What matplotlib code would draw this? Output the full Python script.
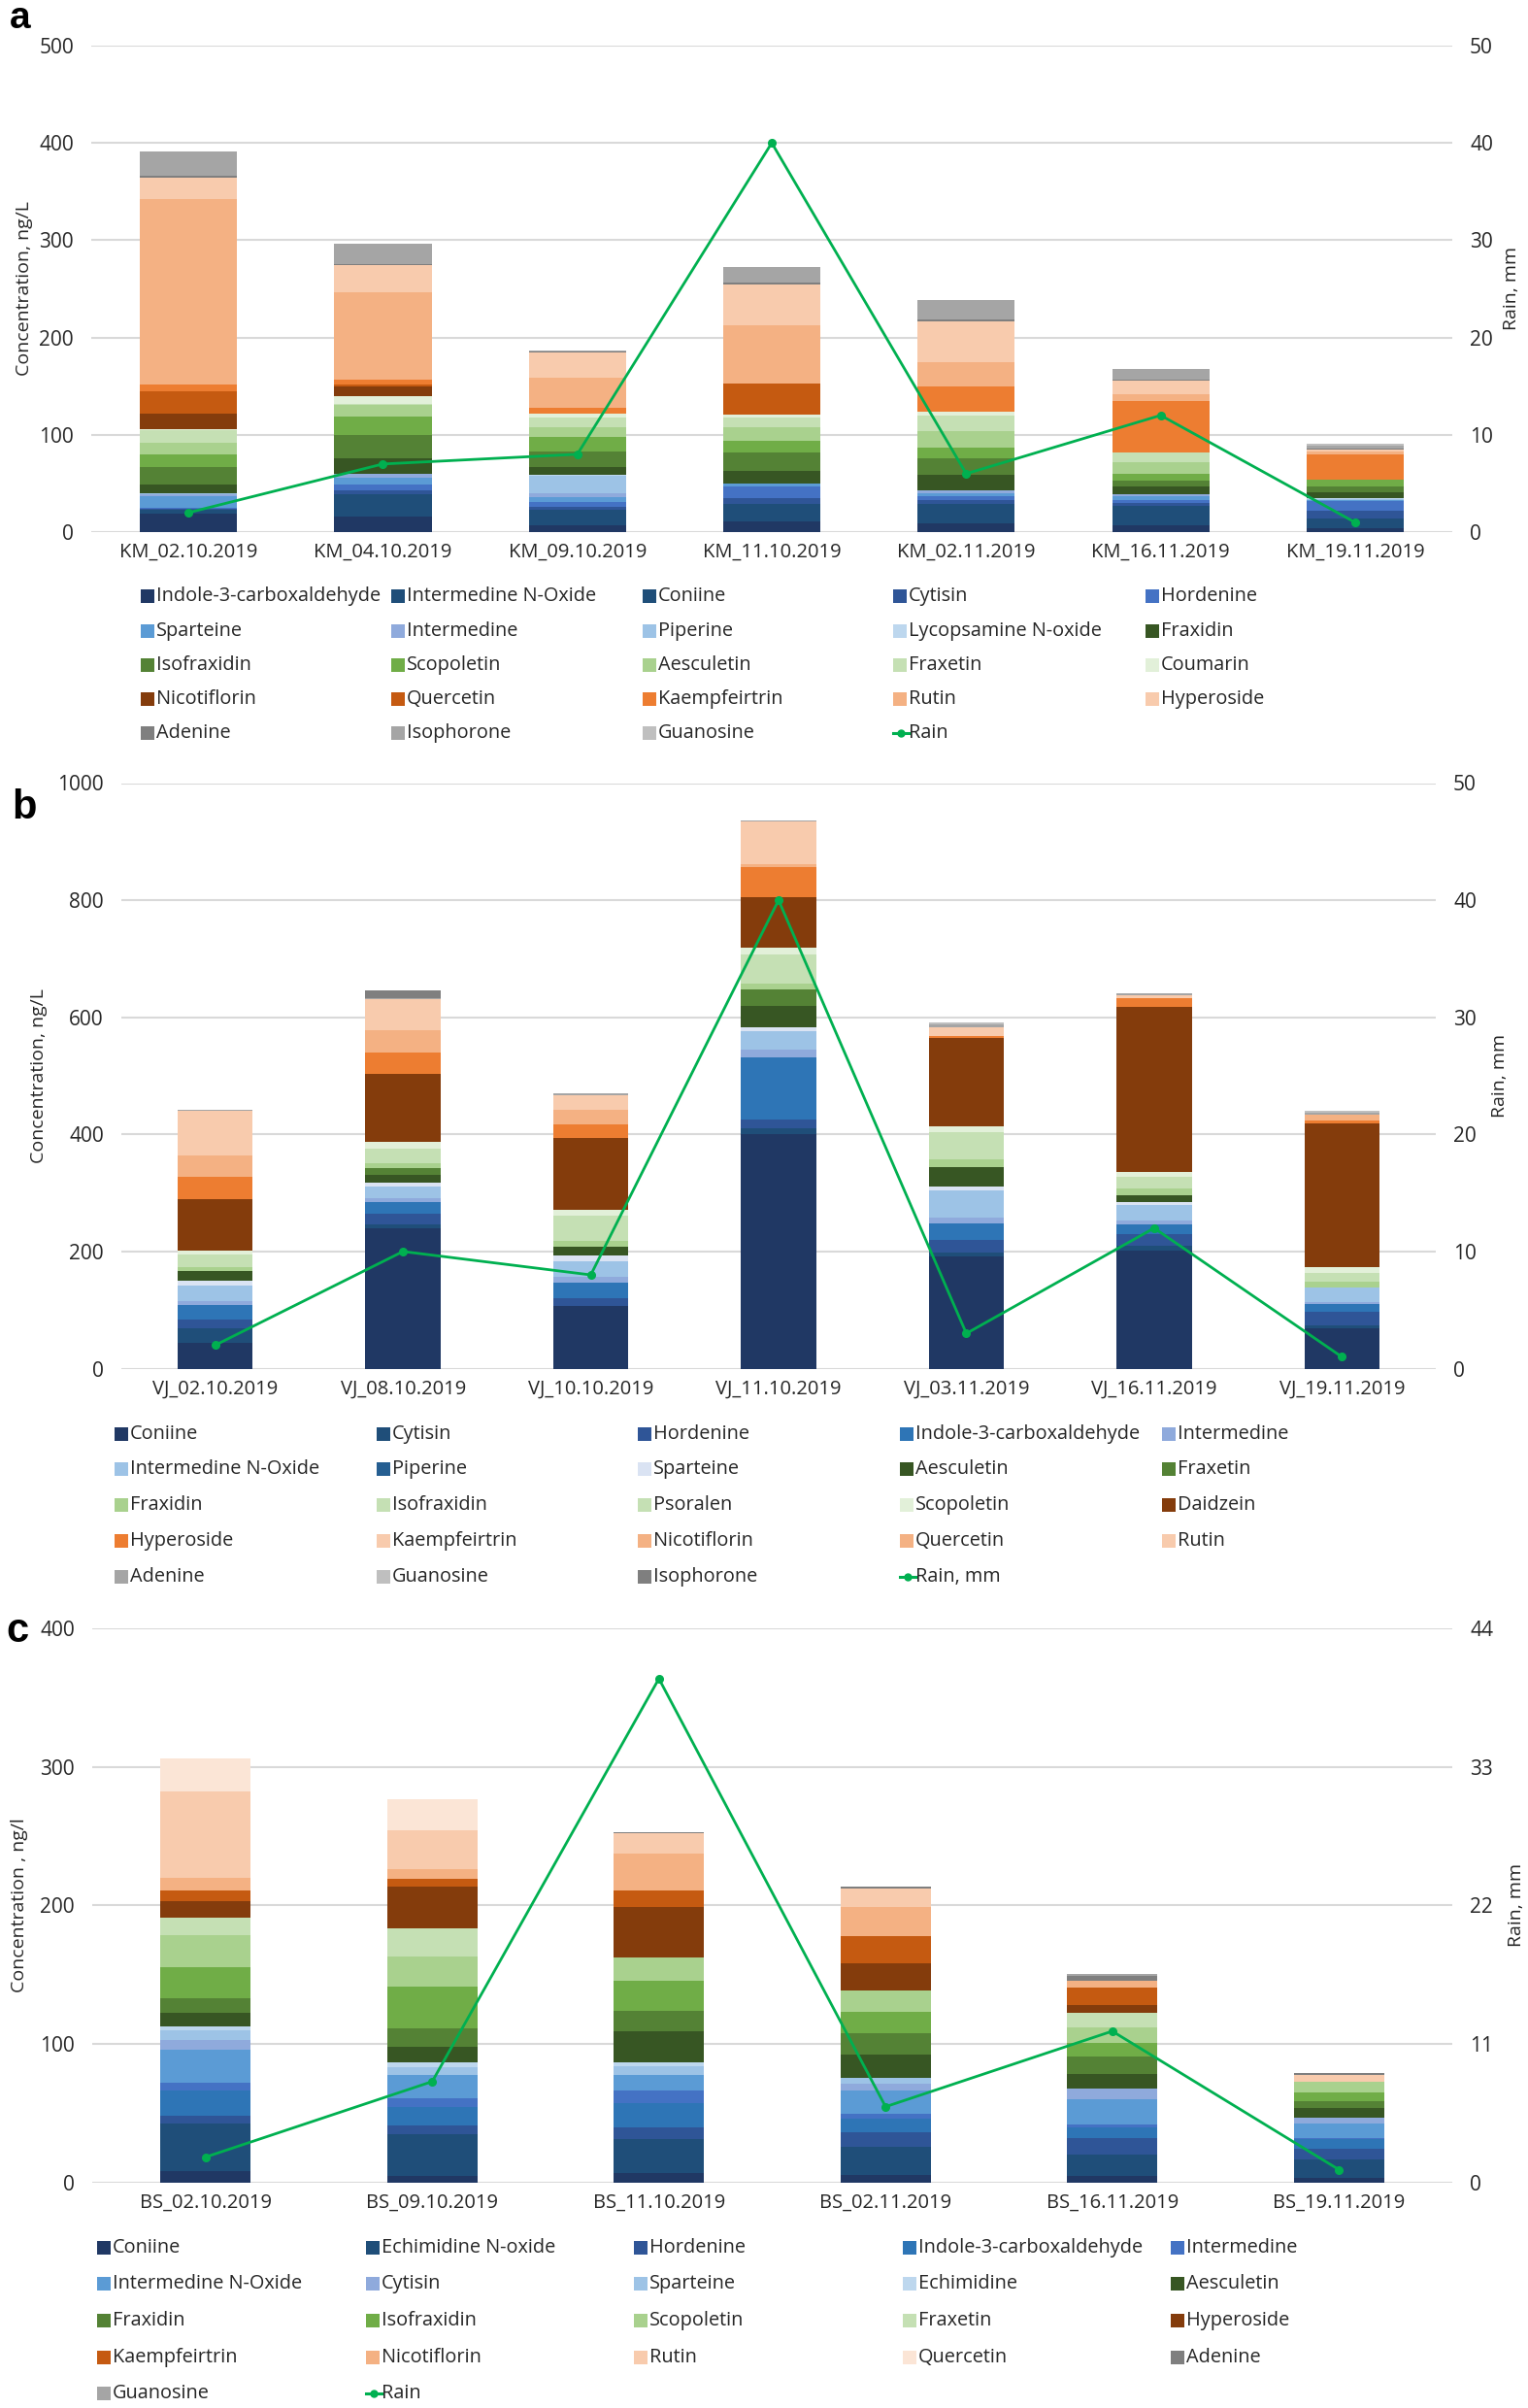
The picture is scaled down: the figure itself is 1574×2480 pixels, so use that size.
import numpy as np
import matplotlib
matplotlib.use("Agg")
import matplotlib.pyplot as plt
from matplotlib.patches import Rectangle
from matplotlib.lines import Line2D

plt.rcParams['font.family'] = ['Open Sans', 'DejaVu Sans']
TXT = '#262626'
GRID = '#D9D9D9'
RAIN_C = '#00B050'

# ---------------- panel a data ----------------
a_samples = ["KM_02.10.2019", "KM_04.10.2019", "KM_09.10.2019", "KM_11.10.2019",
             "KM_02.11.2019", "KM_16.11.2019", "KM_19.11.2019"]
a_conc = {
    "Indole-3-carboxaldehyde": [19, 16, 7, 11, 9.4, 6.7, 4.4],
    "Intermedine N-Oxide": [4, 22.5, 16.4, 17.8, 15, 16.8, 8.4],
    "Coniine": [0, 0, 0, 0, 5, 3.4, 0.7],
    "Cytisin": [1, 4.3, 2.7, 5.7, 4, 2.7, 8.4],
    "Hordenine": [0.5, 6, 5, 12.4, 3.4, 3.4, 10],
    "Sparteine": [12, 7.4, 5, 3.4, 3.4, 4.4, 1],
    "Intermedine": [2.3, 4, 4, 0, 2.7, 1.7, 0],
    "Piperine": [1, 0, 18, 0, 0, 0, 1.2],
    "Lycopsamine N-oxide": [0, 0, 0.5, 0, 0, 0, 1.2],
    "Fraxidin": [9, 16, 8, 12.8, 16, 7.4, 6],
    "Isofraxidin": [17.8, 23.5, 16, 18.5, 17.4, 6, 5.7],
    "Scopoletin": [13.4, 19.5, 15, 12.4, 10.7, 7.4, 6.7],
    "Aesculetin": [11.7, 11.4, 9.7, 13.4, 16.8, 11.7, 0],
    "Fraxetin": [13.4, 1, 10, 10, 16, 10, 0],
    "Coumarin": [0.6, 7.7, 4.4, 3.4, 4.4, 0.7, 0],
    "Nicotiflorin": [16, 10.7, 0, 0, 0, 0, 0],
    "Quercetin": [23.5, 1.3, 0, 31.9, 0, 0, 0],
    "Kaempfeirtrin": [6, 5.4, 5.7, 0, 25.8, 52, 26],
    "Rutin": [191, 89.5, 31.2, 60, 24.8, 7.7, 2.7],
    "Hyperoside": [22, 28.4, 26.3, 41.6, 41.8, 13.4, 2],
    "Adenine": [1.8, 1, 1, 1.8, 1.8, 1, 1.3],
    "Isophorone": [25.5, 21, 1, 16.6, 20.3, 11.4, 3],
    "Guanosine": [0, 0, 0, 0, 0, 0, 2.4],
}
a_rain = [2, 7, 8, 40, 6, 12, 1]
a_colors = ['#203864', '#1F4E79', '#1F4E79', '#2F5597', '#4472C4', '#5B9BD5', '#8FAADC',
            '#9DC3E6', '#BDD7EE', '#375623', '#548235', '#70AD47', '#A9D18E', '#C5E0B4',
            '#E2F0D9', '#843C0C', '#C55A11', '#ED7D31', '#F4B183', '#F8CBAD', '#7F7F7F',
            '#A5A5A5', '#BFBFBF']

# ---------------- panel b data ----------------
b_samples = ["VJ_02.10.2019", "VJ_08.10.2019", "VJ_10.10.2019", "VJ_11.10.2019",
             "VJ_03.11.2019", "VJ_16.11.2019", "VJ_19.11.2019"]
b_conc = {
    "Coniine": [44, 239, 107.7, 400, 191.7, 201.7, 68],
    "Cytisin": [25, 6.6, 0, 10, 7.2, 8.3, 6.6],
    "Hordenine": [15.5, 19.3, 12, 15.6, 21, 20.4, 22],
    "Indole-3-carboxaldehyde": [24.3, 19.3, 26.5, 106.4, 27.6, 16.6, 13.8],
    "Intermedine": [7, 7, 11, 13.6, 10.5, 5.5, 3.9],
    "Intermedine N-Oxide": [26, 20.4, 26.5, 30.5, 47, 27.6, 23.8],
    "Piperine": [0, 0, 0, 0, 0, 0, 0],
    "Sparteine": [8, 5.5, 9.4, 6.8, 6, 4.4, 0.5],
    "Aesculetin": [16.6, 13.8, 15.5, 36.6, 32.6, 12.2, 0],
    "Fraxetin": [0, 11, 0, 27.8, 0, 0, 0],
    "Fraxidin": [7, 8.3, 9.4, 10, 13.8, 11, 9.4],
    "Isofraxidin": [21, 26, 43, 49.5, 45.9, 20, 15.5],
    "Psoralen": [0, 0, 0, 0, 0, 0, 0],
    "Scopoletin": [7.7, 11.6, 10.5, 12.9, 11, 8.8, 9.4],
    "Daidzein": [87, 115, 122, 84.7, 151, 282, 245.9],
    "Hyperoside": [38.7, 37.3, 23.2, 51.5, 3.4, 13.6, 4.4],
    "Kaempfeirtrin": [0, 0, 0, 0, 0, 0, 0],
    "Nicotiflorin": [36, 38.6, 25.4, 6, 0, 0, 10],
    "Quercetin": [0, 0, 0, 0, 0, 0, 0],
    "Rutin": [75.7, 52, 24.3, 71.9, 14.2, 5.4, 0],
    "Adenine": [2.8, 1.5, 4.4, 2.7, 5, 3.4, 3.9],
    "Guanosine": [0, 0, 0, 0, 3, 0, 2.7],
    "Isophorone": [0, 13.5, 0, 0, 0, 0, 0],
}
b_rain = [2, 10, 8, 40, 3, 12, 1]
b_colors = ['#203864', '#1F4E79', '#2F5597', '#2E75B6', '#8FAADC', '#9DC3E6', '#255E91',
            '#DAE3F3', '#375623', '#548235', '#A9D18E', '#C5E0B4', '#C5E0B4', '#E2F0D9',
            '#843C0C', '#ED7D31', '#F8CBAD', '#F4B183', '#F4B183', '#F8CBAD', '#A5A5A5',
            '#BFBFBF', '#7F7F7F']

# ---------------- panel c data ----------------
c_samples = ["BS_02.10.2019", "BS_09.10.2019", "BS_11.10.2019", "BS_02.11.2019",
             "BS_16.11.2019", "BS_19.11.2019"]
c_conc = {
    "Coniine": [8.2, 4.7, 6.8, 5.2, 4.4, 3.3],
    "Echimidine N-oxide": [34.4, 29.7, 24.6, 20.4, 15.9, 13.1],
    "Hordenine": [5.4, 6.3, 8.4, 10.8, 11.7, 8],
    "Indole-3-carboxaldehyde": [18.5, 13.6, 17.6, 9.4, 7.5, 6.6],
    "Intermedine": [5.4, 6.3, 8.7, 3.5, 2.3, 0.7],
    "Intermedine N-Oxide": [23.9, 16.6, 11.5, 16.9, 18.3, 11],
    "Cytisin": [6.6, 0, 0, 5.2, 7.5, 4.2],
    "Sparteine": [7, 5.9, 6.1, 4.2, 0, 0],
    "Echimidine": [3, 3.5, 2.8, 0, 0, 0],
    "Aesculetin": [9.8, 11.5, 22.5, 16.9, 10.3, 7],
    "Fraxidin": [10.5, 13.1, 14.5, 15.2, 12.6, 4.7],
    "Isofraxidin": [22.7, 30, 22, 15.5, 9.8, 6.3],
    "Scopoletin": [22.7, 21.5, 17.1, 15, 11.2, 7.7],
    "Fraxetin": [13.1, 20.4, 0, 0, 10.5, 0],
    "Hyperoside": [11.7, 30.4, 36.3, 19.9, 5.9, 0],
    "Kaempfeirtrin": [7.7, 5.9, 11.7, 19.4, 12.4, 0],
    "Nicotiflorin": [9.5, 6.7, 27, 21.5, 5.2, 0],
    "Rutin": [62, 28, 14.7, 13.1, 0, 4.7],
    "Quercetin": [23.6, 22.8, 0, 0, 0, 0],
    "Adenine": [0, 0, 0.8, 1.2, 3.5, 1.6],
    "Guanosine": [0, 0, 0, 0, 1.6, 0],
}
c_rain = [2, 8, 40, 6, 12, 1]
c_colors = ['#203864', '#1F4E79', '#2F5597', '#2E75B6', '#4472C4', '#5B9BD5', '#8FAADC',
            '#9DC3E6', '#BDD7EE', '#375623', '#548235', '#70AD47', '#A9D18E', '#C5E0B4',
            '#843C0C', '#C55A11', '#F4B183', '#F8CBAD', '#FBE5D6', '#7F7F7F', '#A5A5A5']

W, H = 1574, 2480
fig = plt.figure(figsize=(W / 100, H / 100), dpi=100)


def px_axes(left, top, right, bottom):
    return fig.add_axes([left / W, 1 - bottom / H, (right - left) / W, (bottom - top) / H])


def panel(box, samples, conc, colors, rain, ymax, ystep, rmax, rstep, width):
    ax = px_axes(*box)
    x = np.arange(len(samples))
    bottom = np.zeros(len(samples))
    for (name, vals), col in zip(conc.items(), colors):
        vals = np.array(vals, dtype=float)
        ax.bar(x, vals, width, bottom=bottom, color=col, linewidth=0, zorder=2)
        bottom += vals
    ax.set_xlim(-0.5, len(samples) - 0.5)
    ax.set_ylim(0, ymax)
    ax.set_yticks(np.arange(0, ymax + 1, ystep))
    ax.set_xticks(x)
    ax.set_xticklabels(samples)
    ax.grid(axis='y', color=GRID, lw=1.5, zorder=0)
    ax.set_axisbelow(True)
    for s in ax.spines.values():
        s.set_visible(False)
    ax.tick_params(axis='x', length=0, pad=8, labelsize=14.5, colors=TXT)
    ax.tick_params(axis='y', length=0, pad=13, labelsize=15, colors=TXT)

    ax2 = ax.twinx()
    ax2.plot(x, rain, color=RAIN_C, lw=2, marker='o', ms=5.5, zorder=5)
    ax2.set_ylim(0, rmax)
    ax2.set_yticks(np.arange(0, rmax + 0.1, rstep))
    for s in ax2.spines.values():
        s.set_visible(False)
    ax2.tick_params(axis='y', length=0, pad=13, labelsize=15, colors=TXT)
    return ax, ax2


def legend(names, colors, rain_label, xcols, yrows):
    items = list(zip(names, colors)) + [(rain_label, None)]
    for i, (name, col) in enumerate(items):
        xp = xcols[i % 5]
        yp = yrows[i // 5]
        if col is None:
            fig.add_artist(Line2D([xp / W, (xp + 16) / W], [1 - yp / H, 1 - yp / H],
                                  color=RAIN_C, lw=2.2))
            fig.add_artist(Line2D([(xp + 8) / W], [1 - yp / H], color=RAIN_C,
                                  marker='o', ms=5, lw=0))
        else:
            fig.add_artist(Rectangle((xp / W, 1 - (yp + 7) / H), 14 / W, 14 / H,
                                     facecolor=col, edgecolor='none'))
        fig.text((xp + 16) / W, 1 - yp / H, name, ha='left', va='center',
                 fontsize=14.3, color=TXT)


# panel a
panel((94, 47, 1496, 548), a_samples, a_conc, a_colors, a_rain, 500, 100, 50, 10, 0.5)
legend(list(a_conc.keys()), a_colors, "Rain", [145, 403, 662, 920, 1180],
       [614, 650, 685, 720, 755])
fig.text(25 / W, 1 - 297 / H, "Concentration, ng/L", rotation=90, ha='center',
         va='center', fontsize=14, color=TXT)
fig.text(1557 / W, 1 - 297 / H, "Rain, mm", rotation=90, ha='center',
         va='center', fontsize=14, color=TXT)
fig.text(10 / W, 1 - 29 / H, "a", fontsize=28, fontweight='bold',
         family='Liberation Sans', ha='left', va='baseline')

# panel b
panel((125, 806.5, 1479, 1409.5), b_samples, b_conc, b_colors, b_rain, 1000, 200, 50, 10, 0.4)
legend(list(b_conc.keys()), b_colors, "Rain, mm", [118, 388, 657, 927, 1197],
       [1477, 1513, 1550, 1587, 1624])
fig.text(40 / W, 1 - 1108 / H, "Concentration, ng/L", rotation=90, ha='center',
         va='center', fontsize=14, color=TXT)
fig.text(1545 / W, 1 - 1108 / H, "Rain, mm", rotation=90, ha='center',
         va='center', fontsize=14, color=TXT)
fig.text(12 / W, 1 - 843 / H, "b", fontsize=30, fontweight='bold',
         family='Liberation Sans', ha='left', va='baseline')

# panel c
panel((95, 1677, 1496, 2247.5), c_samples, c_conc, c_colors, c_rain, 400, 100, 44, 11, 0.4)
legend(list(c_conc.keys()), c_colors, "Rain", [100, 377, 653, 930, 1206],
       [2315, 2352, 2390, 2428, 2465])
fig.text(20 / W, 1 - 1962 / H, "Concentration , ng/l", rotation=90, ha='center',
         va='center', fontsize=14, color=TXT)
fig.text(1562 / W, 1 - 1962 / H, "Rain, mm", rotation=90, ha='center',
         va='center', fontsize=14, color=TXT)
fig.text(6 / W, 1 - 1691 / H, "c", fontsize=30, fontweight='bold',
         family='Liberation Sans', ha='left', va='baseline')

fig.savefig("out.png", dpi=100)
